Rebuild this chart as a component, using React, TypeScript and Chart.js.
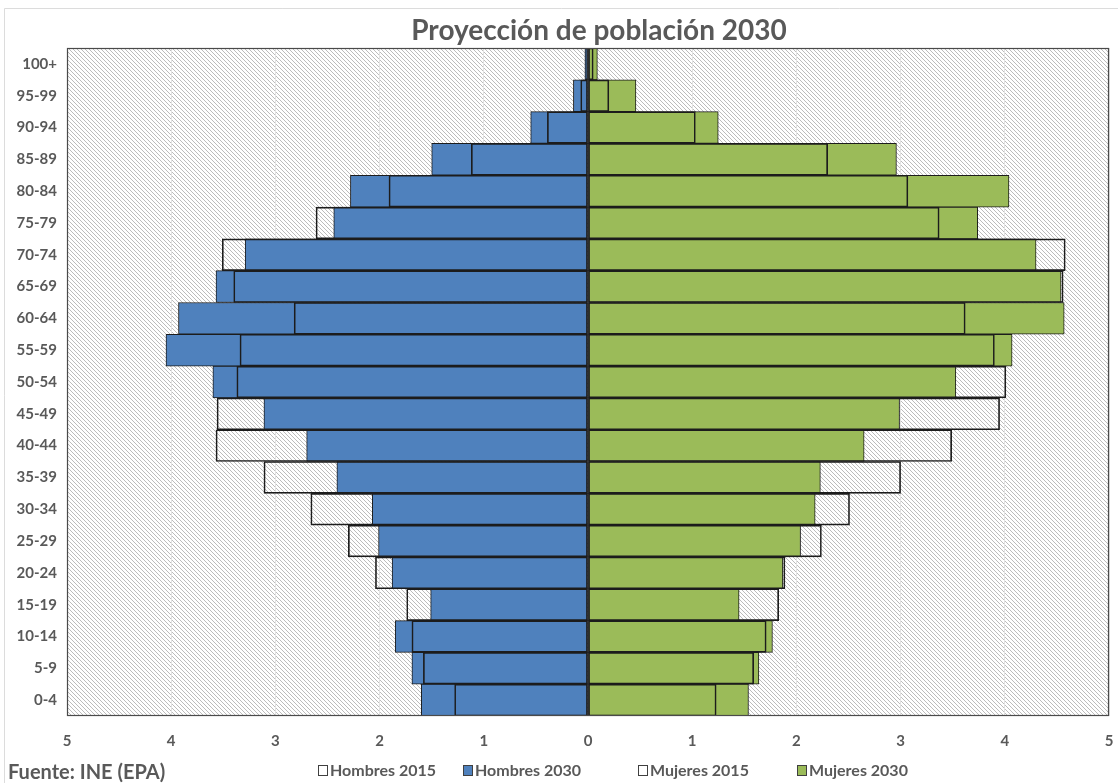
import React, { useEffect, useRef } from "react";
import { Chart, registerables } from "chart.js";

Chart.register(...registerables);

const ageGroups = ["100+", "95-99", "90-94", "85-89", "80-84", "75-79", "70-74", "65-69", "60-64", "55-59", "50-54", "45-49", "40-44", "35-39", "30-34", "25-29", "20-24", "15-19", "10-14", "5-9", "0-4"];

const hombres2015 = [0.02, 0.07, 0.39, 1.12, 1.91, 2.61, 3.51, 3.40, 2.82, 3.34, 3.37, 3.56, 3.57, 3.11, 2.66, 2.30, 2.04, 1.74, 1.69, 1.58, 1.28];
const hombres2030 = [0.03, 0.14, 0.55, 1.50, 2.28, 2.44, 3.29, 3.57, 3.93, 4.05, 3.60, 3.11, 2.70, 2.41, 2.07, 2.01, 1.88, 1.51, 1.85, 1.69, 1.60];
const mujeres2015 = [0.05, 0.20, 1.03, 2.30, 3.07, 3.37, 4.58, 4.56, 3.62, 3.90, 4.01, 3.95, 3.49, 3.00, 2.51, 2.24, 1.89, 1.83, 1.71, 1.59, 1.23];
const mujeres2030 = [0.09, 0.46, 1.25, 2.96, 4.04, 3.74, 4.30, 4.54, 4.57, 4.07, 3.53, 2.99, 2.65, 2.23, 2.18, 2.04, 1.87, 1.45, 1.77, 1.64, 1.54];

const titleText = "Proyección de población 2030";
const sourceText = "Fuente: INE (EPA)";
const legendItems = [
  { label: "Hombres 2015", fill: "#ffffff", x: 318 },
  { label: "Hombres 2030", fill: "#4f81bd", x: 463 },
  { label: "Mujeres 2015", fill: "#ffffff", x: 638 },
  { label: "Mujeres 2030", fill: "#9bbb59", x: 797 },
];

const TEXT = "#595959";
const FONT = "Lato, 'Open Sans', sans-serif";

function makeHatch(ctx: CanvasRenderingContext2D) {
  const c = document.createElement("canvas");
  c.width = 4;
  c.height = 4;
  const g = c.getContext("2d")!;
  g.fillStyle = "#ffffff";
  g.fillRect(0, 0, 4, 4);
  g.fillStyle = "#bcbcbc";
  for (let i = 0; i < 4; i++) g.fillRect(i, i, 1, 1);
  return ctx.createPattern(c, "repeat");
}

const decorPlugin = {
  id: "decor",
  beforeDraw(chart: any) {
    const { ctx, chartArea, width, height } = chart;
    ctx.save();
    ctx.fillStyle = "#ffffff";
    ctx.fillRect(0, 0, width, height);
    ctx.strokeStyle = "#dcdcdc";
    ctx.lineWidth = 1;
    ctx.beginPath();
    ctx.moveTo(4.5, height);
    ctx.lineTo(4.5, 8.5);
    ctx.lineTo(width, 8.5);
    ctx.stroke();
    const pat = makeHatch(ctx);
    if (pat) {
      ctx.fillStyle = pat;
      ctx.fillRect(chartArea.left, chartArea.top, chartArea.right - chartArea.left, chartArea.bottom - chartArea.top);
    }
    ctx.restore();
  },
  afterDatasetsDraw(chart: any) {
    const { ctx, chartArea } = chart;
    ctx.save();
    ctx.strokeStyle = "#4a4a4a";
    ctx.lineWidth = 1.2;
    ctx.strokeRect(chartArea.left + 0.5, chartArea.top + 0.5, chartArea.right - chartArea.left - 1, chartArea.bottom - chartArea.top - 1);
    ctx.restore();
  },
  afterDraw(chart: any) {
    const { ctx } = chart;
    ctx.save();
    ctx.fillStyle = TEXT;
    ctx.textBaseline = "alphabetic";
    ctx.textAlign = "center";
    ctx.font = `bold 28px ${FONT}`;
    ctx.fillText(titleText, 599, 40);
    ctx.textAlign = "left";
    ctx.font = `bold 20px ${FONT}`;
    ctx.fillText(sourceText, 8, 779);
    ctx.font = `bold 16px ${FONT}`;
    ctx.textBaseline = "middle";
    for (const it of legendItems) {
      ctx.fillStyle = it.fill;
      ctx.fillRect(it.x, 765, 10, 11);
      ctx.strokeStyle = "#404040";
      ctx.lineWidth = 1;
      ctx.strokeRect(it.x + 0.5, 765.5, 9, 10);
      ctx.fillStyle = TEXT;
      ctx.fillText(it.label, it.x + 12, 771);
    }
    ctx.restore();
  },
};

export default function App() {
  const ref = useRef<HTMLCanvasElement | null>(null);
  useEffect(() => {
    document.body.style.margin = "0";
    const canvas = ref.current!;
    const common = {
      borderColor: "#1c1c1c",
      borderWidth: 1,
      borderSkipped: false,
      barPercentage: 1,
      categoryPercentage: 1,
      grouped: false,
    };
    const chart = new Chart(canvas, {
      type: "bar",
      data: {
        labels: ageGroups,
        datasets: [
          { label: "Hombres 2015", data: hombres2015.map((v) => -v), backgroundColor: "rgba(255,255,255,0)", ...common },
          { label: "Hombres 2030", data: hombres2030.map((v) => -v), backgroundColor: "#4f81bd", ...common },
          { label: "Mujeres 2015", data: mujeres2015, backgroundColor: "rgba(255,255,255,0)", ...common },
          { label: "Mujeres 2030", data: mujeres2030, backgroundColor: "#9bbb59", ...common },
        ] as any,
      },
      options: {
        indexAxis: "y",
        animation: false,
        responsive: false,
        maintainAspectRatio: false,
        layout: { padding: { top: 48, right: 9, bottom: 27, left: 0 } },
        plugins: {
          legend: { display: false },
          title: { display: false },
          tooltip: { enabled: false },
        },
        scales: {
          x: {
            min: -5,
            max: 5,
            ticks: {
              stepSize: 1,
              padding: 16,
              color: TEXT,
              font: { family: FONT, size: 15, weight: "bold" },
              callback: (v: any) => String(Math.abs(Number(v))),
            },
            grid: { color: "#e2e2e2", lineWidth: 1, drawTicks: false },
            border: { display: false },
            afterFit: (s: any) => {
              s.height = 40;
              s.paddingLeft = 0;
              s.paddingRight = 0;
            },
          },
          y: {
            ticks: {
              padding: 10,
              color: TEXT,
              font: { family: FONT, size: 15, weight: "bold" },
            },
            grid: { display: false, drawTicks: false },
            border: { display: false },
            afterFit: (s: any) => {
              s.width = 67;
              s.paddingTop = 0;
              s.paddingBottom = 0;
            },
          },
        },
      } as any,
      plugins: [decorPlugin],
    });
    return () => chart.destroy();
  }, []);
  return (
    <div style={{ width: 1118, height: 783 }}>
      <canvas ref={ref} width={1118} height={783} style={{ display: "block" }} />
    </div>
  );
}
